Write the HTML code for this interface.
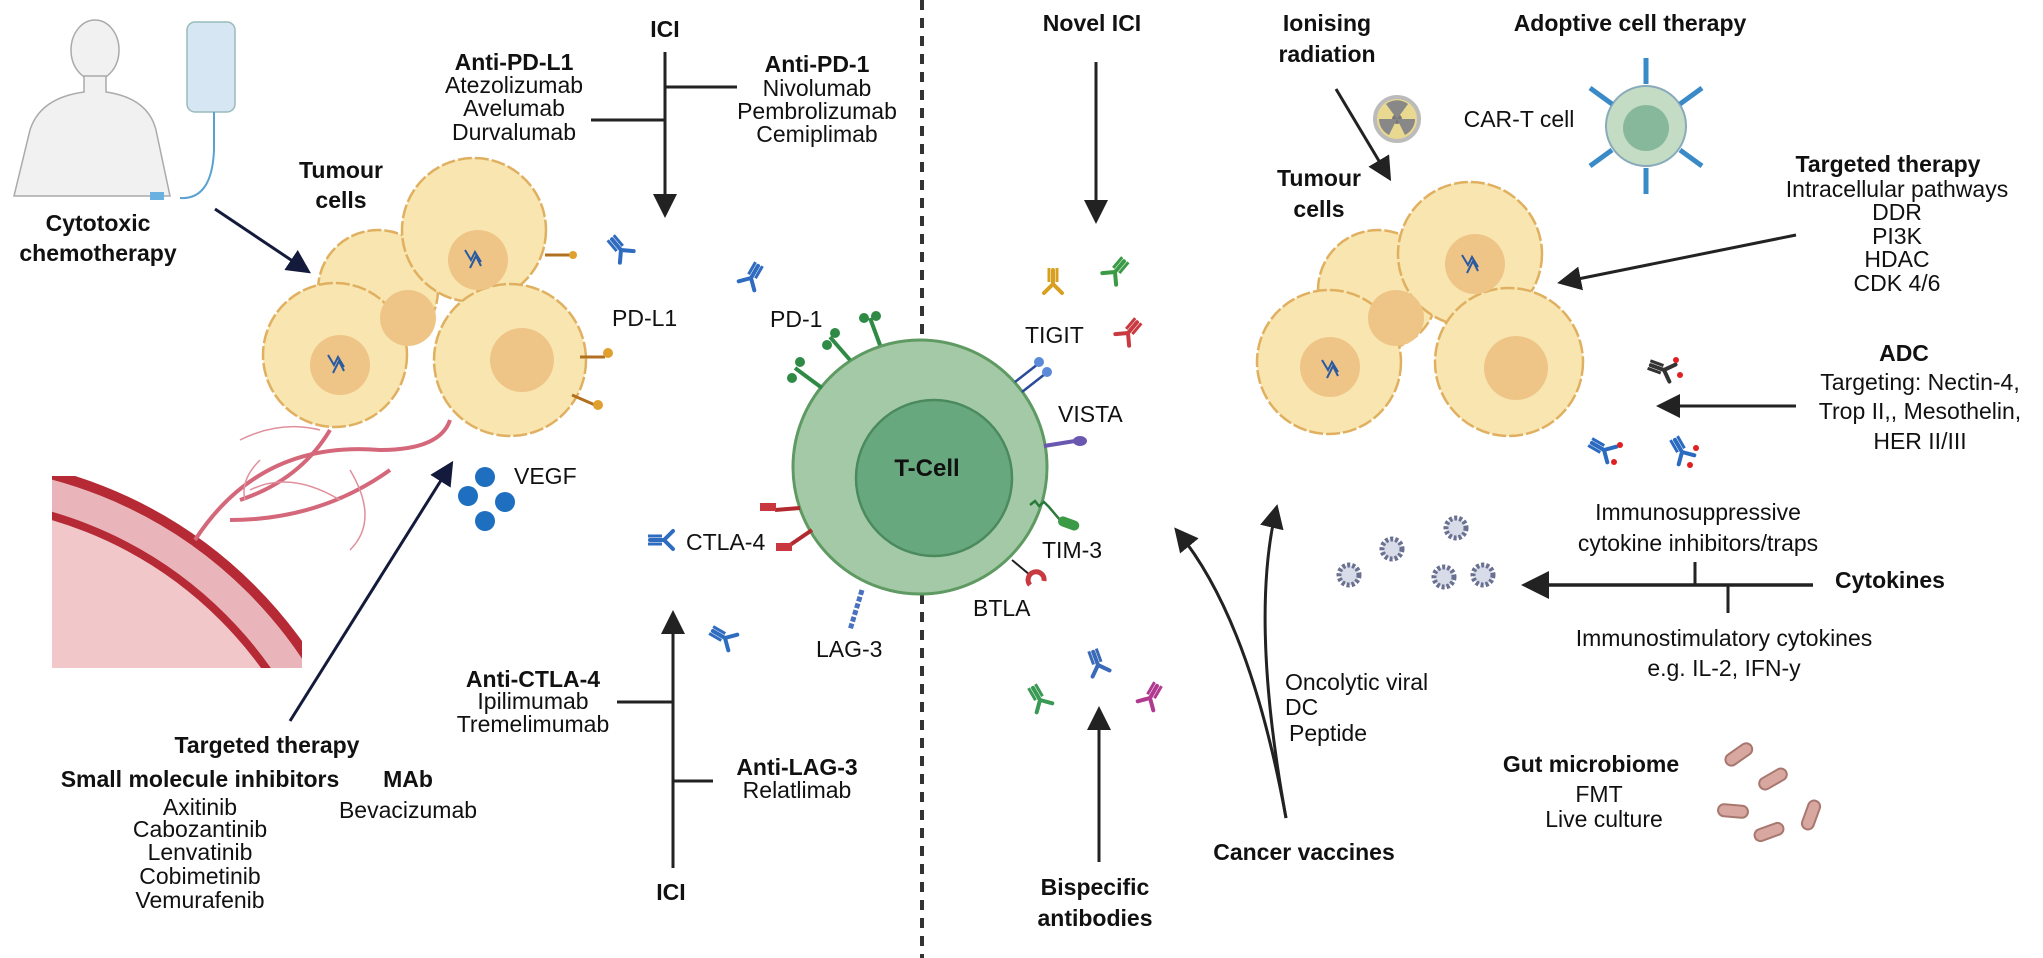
<!DOCTYPE html>
<html><head><meta charset="utf-8"><style>
html,body{margin:0;padding:0;background:#fff;width:2043px;height:958px;overflow:hidden;}
svg{display:block;font-family:"Liberation Sans",Arial,sans-serif;}
text{font-size:23px;fill:#111;}
.b{font-weight:bold;}
.m{text-anchor:middle;}
</style></head><body>
<svg width="2043" height="958" viewBox="0 0 2043 958" xmlns="http://www.w3.org/2000/svg">
<defs>
<marker id="ah" markerWidth="8" markerHeight="8" refX="6" refY="4" orient="auto" markerUnits="strokeWidth"><path d="M0,0 L8,4 L0,8 Z" fill="#222"/></marker>
<marker id="an" markerWidth="8" markerHeight="8" refX="6" refY="4" orient="auto" markerUnits="strokeWidth"><path d="M0,0 L8,4 L0,8 Z" fill="#141a3c"/></marker>
<clipPath id="vc"><rect x="52" y="476" width="250" height="192"/></clipPath>
<g id="ab"><path d="M0,0 L0,-14 M0,0 L-9,9 M0,0 L9,9" stroke-width="4" fill="none" stroke-linecap="round"/><path d="M-4,-2 L-4,-16 M4,-2 L4,-16" stroke-width="3" fill="none"/></g>
</defs>

<line x1="922" y1="0" x2="922" y2="958" stroke="#333" stroke-width="4" stroke-dasharray="10,8"/>

<g fill="#f1f1f1" stroke="#aaa" stroke-width="1.5">
<ellipse cx="95" cy="50" rx="24" ry="30"/>
<path d="M84,76 L84,92 Q40,98 30,130 L14,196 L170,196 L156,130 Q148,98 106,92 L106,76 Z"/>
<rect x="187" y="22" width="48" height="90" rx="8" fill="#d6e6f2" stroke="#9bb"/>
</g>
<path d="M214,112 L214,150 Q212,200 180,198" stroke="#5aa0d0" stroke-width="2" fill="none"/>
<rect x="150" y="192" width="14" height="8" fill="#6ab0e0"/>

<text class="b m" x="98" y="231">Cytotoxic</text>
<text class="b m" x="98" y="261">chemotherapy</text>
<line x1="215" y1="209" x2="306" y2="270" stroke="#141a3c" stroke-width="3" marker-end="url(#an)"/>
<text class="b m" x="341" y="178">Tumour</text>
<text class="b m" x="341" y="208">cells</text>

<g fill="#f8e5b0" stroke="#e0b060" stroke-width="2.5" stroke-dasharray="14,3">
<circle cx="378" cy="290" r="60"/>
<circle cx="474" cy="230" r="72"/>
<circle cx="335" cy="355" r="72"/>
<circle cx="510" cy="360" r="76"/>
</g>
<g fill="#efc587">
<circle cx="408" cy="318" r="28"/>
<circle cx="478" cy="260" r="30"/>
<circle cx="340" cy="365" r="30"/>
<circle cx="522" cy="360" r="32"/>
</g>
<path d="M465,250 l6,10 l4,-8 l6,10 M470,268 l6,-12 l5,10" stroke="#2a5aa0" stroke-width="2" fill="none"/>
<path d="M328,355 l6,10 l4,-8 l6,10 M333,373 l6,-12 l5,10" stroke="#2a5aa0" stroke-width="2" fill="none"/>
<g stroke="#b07020" stroke-width="3"><line x1="545" y1="255" x2="570" y2="255"/><line x1="580" y1="357" x2="605" y2="357"/><line x1="572" y1="395" x2="595" y2="405"/></g>
<g fill="#e0a030"><circle cx="573" cy="255" r="4"/><circle cx="608" cy="353" r="5"/><circle cx="598" cy="405" r="5"/></g>

<g clip-path="url(#vc)">
<circle cx="-60" cy="900" r="440" fill="#e9b5ba" stroke="#b52a35" stroke-width="10"/>
<circle cx="-60" cy="900" r="400" fill="#f1c7ca" stroke="#b52a35" stroke-width="8"/>
</g>
<g stroke="#d4687a" stroke-width="4" fill="none">
<path d="M195,540 Q260,440 380,450 Q440,450 450,420"/>
<path d="M240,500 Q300,480 330,430"/>
<path d="M230,520 Q320,520 390,470"/>
</g>
<g stroke="#e0909c" stroke-width="1.5" fill="none">
<path d="M240,440 Q280,420 320,430"/><path d="M250,490 Q290,470 340,500"/><path d="M350,470 Q380,520 350,550"/><path d="M260,460 Q240,480 245,500"/>
</g>

<line x1="290" y1="721" x2="450" y2="466" stroke="#141a3c" stroke-width="3" marker-end="url(#an)"/>
<g fill="#1f6fc0"><circle cx="485" cy="477" r="10"/><circle cx="468" cy="496" r="10"/><circle cx="505" cy="502" r="10"/><circle cx="485" cy="521" r="10"/></g>
<text x="514" y="484">VEGF</text>

<text class="b m" x="267" y="753">Targeted therapy</text>
<text class="b m" x="200" y="787">Small molecule inhibitors</text>
<text class="b m" x="408" y="787">MAb</text>
<text class="m" x="200" y="815">Axitinib</text>
<text class="m" x="200" y="837">Cabozantinib</text>
<text class="m" x="200" y="860">Lenvatinib</text>
<text class="m" x="200" y="884">Cobimetinib</text>
<text class="m" x="200" y="908">Vemurafenib</text>
<text class="m" x="408" y="818">Bevacizumab</text>

<text class="b m" x="665" y="37">ICI</text>
<line x1="665" y1="52" x2="665" y2="212" stroke="#222" stroke-width="3" marker-end="url(#ah)"/>
<line x1="591" y1="120" x2="665" y2="120" stroke="#222" stroke-width="3"/>
<line x1="665" y1="87" x2="737" y2="87" stroke="#222" stroke-width="3"/>
<text class="b m" x="514" y="70">Anti-PD-L1</text>
<text class="m" x="514" y="93">Atezolizumab</text>
<text class="m" x="514" y="116">Avelumab</text>
<text class="m" x="514" y="140">Durvalumab</text>
<text class="b m" x="817" y="72">Anti-PD-1</text>
<text class="m" x="817" y="96">Nivolumab</text>
<text class="m" x="817" y="119">Pembrolizumab</text>
<text class="m" x="817" y="142">Cemiplimab</text>

<g stroke="#2f6cc0">
<use href="#ab" x="621" y="250" transform="rotate(-40 621 250)"/>
<use href="#ab" x="751" y="278" transform="rotate(30 751 278)"/>
<use href="#ab" x="664" y="540" transform="rotate(-90 664 540)"/>
<use href="#ab" x="725" y="638" transform="rotate(-60 725 638)"/>
</g>
<text x="612" y="326">PD-L1</text>
<text x="770" y="327">PD-1</text>
<text x="686" y="550">CTLA-4</text>
<text x="816" y="657">LAG-3</text>

<circle cx="920" cy="467" r="127" fill="#a4c9a6" stroke="#5e9a62" stroke-width="3"/>
<circle cx="934" cy="478" r="78" fill="#68a87e" stroke="#4b8a5d" stroke-width="2.5"/>
<text class="b m" x="927" y="476" style="font-size:24px">T-Cell</text>
<g stroke="#2f8a45" stroke-width="4">
<line x1="822" y1="388" x2="795" y2="368"/><line x1="850" y1="360" x2="830" y2="337"/><line x1="880" y1="345" x2="870" y2="318"/>
</g>
<g fill="#2f8a45"><circle cx="792" cy="378" r="5"/><circle cx="800" cy="362" r="5"/><circle cx="827" cy="345" r="5"/><circle cx="835" cy="333" r="5"/><circle cx="864" cy="318" r="5"/><circle cx="876" cy="316" r="5"/></g>
<g stroke="#b02a30" stroke-width="4"><line x1="800" y1="508" x2="775" y2="510"/><line x1="812" y1="530" x2="790" y2="545"/></g>
<g fill="#c8383e"><rect x="760" y="503" width="16" height="8"/><rect x="776" y="543" width="16" height="8"/></g>
<line x1="862" y1="590" x2="850" y2="630" stroke="#4a70c0" stroke-width="5" stroke-dasharray="5,2"/>
<g stroke="#2a4a9a" stroke-width="2.5"><line x1="1015" y1="382" x2="1038" y2="364"/><line x1="1022" y1="392" x2="1045" y2="374"/></g>
<g fill="#5a8ad8"><circle cx="1039" cy="362" r="5"/><circle cx="1047" cy="372" r="5"/></g>
<line x1="1044" y1="446" x2="1075" y2="441" stroke="#6a58b0" stroke-width="4"/><ellipse cx="1080" cy="441" rx="7" ry="5" fill="#6a58b0"/>
<path d="M1030,505 l5,-4 l4,5 l5,-4 l5,5 L1060,520" stroke="#2a7a3a" stroke-width="2.5" fill="none"/><rect x="1060" y="515" width="22" height="10" rx="5" fill="#3a9a45" transform="rotate(20 1060 515)"/>
<line x1="1012" y1="560" x2="1030" y2="575" stroke="#222" stroke-width="2"/><path d="M1030,585 a8,8 0 1 1 14,-4" stroke="#c83a40" stroke-width="5" fill="none"/>

<text x="1025" y="343">TIGIT</text>
<text x="1058" y="422">VISTA</text>
<text x="1042" y="558">TIM-3</text>
<text x="973" y="616">BTLA</text>

<g stroke="#d8a020"><use href="#ab" x="1053" y="284"/></g>
<g stroke="#3a9a45"><use href="#ab" x="1115" y="272" transform="rotate(40 1115 272)"/></g>
<g stroke="#c83a40"><use href="#ab" x="1128" y="333" transform="rotate(40 1128 333)"/></g>

<line x1="673" y1="868" x2="673" y2="616" stroke="#222" stroke-width="3" marker-end="url(#ah)"/>
<line x1="617" y1="702" x2="673" y2="702" stroke="#222" stroke-width="3"/>
<line x1="673" y1="781" x2="713" y2="781" stroke="#222" stroke-width="3"/>
<text class="b m" x="671" y="900">ICI</text>
<text class="b m" x="533" y="687">Anti-CTLA-4</text>
<text class="m" x="533" y="709">Ipilimumab</text>
<text class="m" x="533" y="732">Tremelimumab</text>
<text class="b m" x="797" y="775">Anti-LAG-3</text>
<text class="m" x="797" y="798">Relatlimab</text>

<text class="b m" x="1092" y="31">Novel ICI</text>
<line x1="1096" y1="62" x2="1096" y2="218" stroke="#222" stroke-width="3" marker-end="url(#ah)"/>

<g stroke="#3a9a55"><use href="#ab" x="1040" y="700" transform="rotate(-30 1040 700)"/></g>
<g stroke="#3a6ab8"><use href="#ab" x="1098" y="665" transform="rotate(-20 1098 665)"/></g>
<g stroke="#b03a90"><use href="#ab" x="1150" y="698" transform="rotate(30 1150 698)"/></g>
<line x1="1099" y1="862" x2="1099" y2="712" stroke="#222" stroke-width="3" marker-end="url(#ah)"/>
<text class="b m" x="1095" y="895">Bispecific</text>
<text class="b m" x="1095" y="926">antibodies</text>

<text class="b m" x="1304" y="860">Cancer vaccines</text>
<text x="1285" y="690">Oncolytic viral</text>
<text x="1285" y="715">DC</text>
<text x="1289" y="741">Peptide</text>
<path d="M1286,818 Q1250,620 1178,532" stroke="#222" stroke-width="3" fill="none" marker-end="url(#ah)"/>
<path d="M1286,818 Q1250,620 1276,510" stroke="#222" stroke-width="3" fill="none" marker-end="url(#ah)"/>

<text class="b m" x="1327" y="31">Ionising</text>
<text class="b m" x="1327" y="62">radiation</text>
<line x1="1336" y1="89" x2="1388" y2="176" stroke="#222" stroke-width="3" marker-end="url(#ah)"/>
<circle cx="1397" cy="119" r="22" fill="#e8d890" stroke="#bbb" stroke-width="4"/>
<circle cx="1397" cy="119" r="5" fill="#777"/>
<path d="M1397,119 L1386,104 A18,18 0 0 1 1408,104 Z M1397,119 L1415,119 A18,18 0 0 1 1405,135 Z M1397,119 L1389,135 A18,18 0 0 1 1379,119 Z" fill="#888"/>

<text class="b m" x="1630" y="31">Adoptive cell therapy</text>
<text class="m" x="1519" y="127">CAR-T cell</text>
<circle cx="1646" cy="126" r="40" fill="#c4dcc4" stroke="#8ab" stroke-width="2"/>
<circle cx="1646" cy="128" r="23" fill="#88b89c"/>
<g stroke="#3a8ac8" stroke-width="5">
<line x1="1646" y1="84" x2="1646" y2="58"/><line x1="1646" y1="168" x2="1646" y2="194"/>
<line x1="1612" y1="104" x2="1590" y2="88"/><line x1="1680" y1="104" x2="1702" y2="88"/>
<line x1="1612" y1="150" x2="1590" y2="166"/><line x1="1680" y1="150" x2="1702" y2="166"/>
</g>

<text class="b m" x="1319" y="186">Tumour</text>
<text class="b m" x="1319" y="217">cells</text>
<g fill="#f8e5b0" stroke="#e0b060" stroke-width="2.5" stroke-dasharray="14,3">
<circle cx="1378" cy="290" r="60"/>
<circle cx="1470" cy="254" r="72"/>
<circle cx="1329" cy="362" r="72"/>
<circle cx="1509" cy="362" r="74"/>
</g>
<g fill="#efc587">
<circle cx="1396" cy="318" r="28"/>
<circle cx="1475" cy="264" r="30"/>
<circle cx="1330" cy="367" r="30"/>
<circle cx="1516" cy="368" r="32"/>
</g>
<path d="M1462,255 l6,10 l4,-8 l6,10 M1467,273 l6,-12 l5,10" stroke="#2a5aa0" stroke-width="2" fill="none"/>
<path d="M1322,360 l6,10 l4,-8 l6,10 M1327,378 l6,-12 l5,10" stroke="#2a5aa0" stroke-width="2" fill="none"/>

<text class="b m" x="1888" y="172">Targeted therapy</text>
<text class="m" x="1897" y="197">Intracellular pathways</text>
<text class="m" x="1897" y="220">DDR</text>
<text class="m" x="1897" y="244">PI3K</text>
<text class="m" x="1897" y="267">HDAC</text>
<text class="m" x="1897" y="291">CDK 4/6</text>
<line x1="1796" y1="235" x2="1563" y2="282" stroke="#222" stroke-width="3" marker-end="url(#ah)"/>

<text class="b m" x="1904" y="361">ADC</text>
<text class="m" x="1920" y="390">Targeting: Nectin-4,</text>
<text class="m" x="1920" y="419">Trop II,, Mesothelin,</text>
<text class="m" x="1920" y="449">HER II/III</text>
<line x1="1796" y1="406" x2="1662" y2="406" stroke="#222" stroke-width="3" marker-end="url(#ah)"/>
<g stroke="#333"><use href="#ab" x="1664" y="370" transform="rotate(-70 1664 370)"/></g>
<g stroke="#2a6ac0"><use href="#ab" x="1604" y="450" transform="rotate(-60 1604 450)"/><use href="#ab" x="1682" y="452" transform="rotate(-30 1682 452)"/></g>
<g fill="#e02020"><circle cx="1676" cy="360" r="3"/><circle cx="1680" cy="375" r="3"/><circle cx="1614" cy="462" r="3"/><circle cx="1620" cy="445" r="3"/><circle cx="1690" cy="465" r="3"/><circle cx="1696" cy="448" r="3"/></g>

<text class="m" x="1698" y="520">Immunosuppressive</text>
<text class="m" x="1698" y="551">cytokine inhibitors/traps</text>
<text class="b m" x="1890" y="588">Cytokines</text>
<line x1="1813" y1="585" x2="1528" y2="585" stroke="#222" stroke-width="3.5" marker-end="url(#ah)"/>
<line x1="1695" y1="585" x2="1695" y2="562" stroke="#222" stroke-width="3"/>
<line x1="1728" y1="585" x2="1728" y2="613" stroke="#222" stroke-width="3"/>
<text class="m" x="1724" y="646">Immunostimulatory cytokines</text>
<text class="m" x="1724" y="676">e.g. IL-2, IFN-y</text>
<g fill="#d8dce8" stroke="#6a7090" stroke-width="5" stroke-dasharray="3,2">
<circle cx="1349" cy="575" r="10"/><circle cx="1392" cy="549" r="10"/><circle cx="1456" cy="528" r="10"/><circle cx="1444" cy="577" r="10"/><circle cx="1483" cy="575" r="10"/>
</g>

<text class="b m" x="1591" y="772">Gut microbiome</text>
<text class="m" x="1599" y="802">FMT</text>
<text class="m" x="1604" y="827">Live culture</text>
<g fill="#d8a8a0" stroke="#a87870" stroke-width="2">
<rect x="1724" y="749" width="30" height="12" rx="6" transform="rotate(-35 1738 755)"/>
<rect x="1758" y="773" width="30" height="12" rx="6" transform="rotate(-30 1773 779)"/>
<rect x="1718" y="805" width="30" height="12" rx="6" transform="rotate(5 1733 811)"/>
<rect x="1754" y="826" width="30" height="12" rx="6" transform="rotate(-20 1769 832)"/>
<rect x="1796" y="809" width="30" height="12" rx="6" transform="rotate(-70 1811 815)"/>
</g>
</svg>
</body></html>
